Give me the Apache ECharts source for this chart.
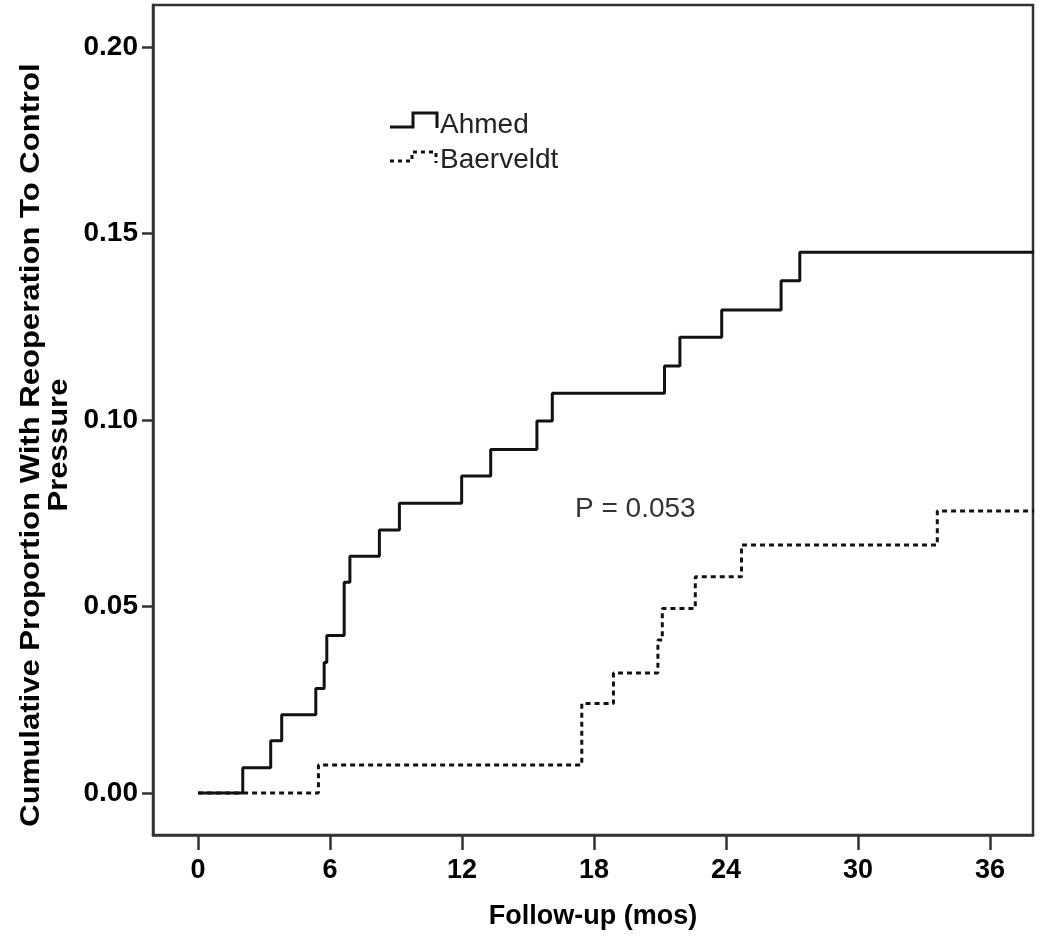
<!DOCTYPE html>
<html>
<head>
<meta charset="utf-8">
<style>
html,body{margin:0;padding:0;background:#fff;}
#chart{width:1044px;height:943px;}
</style>
<script src="https://cdn.jsdelivr.net/npm/echarts@6/dist/echarts.min.js"></script>
</head>
<body>
<div id="chart"></div>
<script>
// ---- data ----
const ahmedTime = [0, 2.03, 3.3, 3.8, 5.35, 5.73, 5.85, 6.64, 6.9, 8.24, 9.15, 11.98, 13.3, 15.4, 16.1, 21.2, 21.9, 23.8, 26.5, 27.35, 38];
const ahmedCum  = [0, 0.0068, 0.0140, 0.0210, 0.0280, 0.0350, 0.0422, 0.0565, 0.0635, 0.0705, 0.0777, 0.0850, 0.0921, 0.0997, 0.1072, 0.1145, 0.1222, 0.1295, 0.1373, 0.1450, 0.1450];
const baerTime  = [0, 5.47, 17.44, 18.88, 20.9, 21.1, 22.6, 24.7, 33.6, 38];
const baerCum   = [0, 0.0075, 0.0240, 0.0322, 0.0410, 0.0495, 0.0580, 0.0665, 0.0756, 0.0756];
const xTicks = [0, 6, 12, 18, 24, 30, 36];
const yTicks = [0, 0.05, 0.10, 0.15, 0.20];
const seriesNames = ['Ahmed', 'Baerveldt'];
const pText = 'P = 0.053';
const xTitle = 'Follow-up (mos)';
const yTitle = 'Cumulative Proportion With Reoperation To Control\nPressure';

const chart = echarts.init(document.getElementById('chart'), null, {renderer: 'canvas'});
const zip = (a, b) => a.map((t, i) => [t, b[i]]);
const FRAME = '#333';

chart.setOption({
  animation: false,
  backgroundColor: '#fff',
  grid: {left: 153, right: 11, top: 5, bottom: 108, show: true, borderColor: FRAME, borderWidth: 2.5, backgroundColor: 'transparent'},
  xAxis: {
    type: 'value', min: -2.05, max: 37.95,
    name: xTitle, nameLocation: 'middle', nameGap: 68,
    nameTextStyle: {fontFamily: 'Liberation Sans', fontWeight: 'bold', fontSize: 27, color: '#000'},
    axisLine: {show: true, onZero: false, lineStyle: {color: FRAME, width: 2.5}},
    axisTick: {show: true, length: 15, customValues: xTicks, lineStyle: {color: FRAME, width: 2.5}},
    axisLabel: {customValues: xTicks, margin: 22, fontFamily: 'Liberation Sans', fontWeight: 'bold', fontSize: 27, color: '#000'},
    splitLine: {show: false}
  },
  yAxis: {
    type: 'value', min: -0.01125, max: 0.21125,
    axisLine: {show: true, onZero: false, lineStyle: {color: FRAME, width: 2.5}},
    axisTick: {show: true, length: 11, customValues: yTicks, lineStyle: {color: FRAME, width: 2.5}},
    axisLabel: {customValues: yTicks, margin: 15, formatter: v => v.toFixed(2), fontFamily: 'Liberation Sans', fontWeight: 'bold', fontSize: 28, color: '#000'},
    splitLine: {show: false}
  },
  graphic: [
    {type: 'text', x: 18, y: 445, rotation: Math.PI / 2, scaleX: 1.15, z: 10,
     style: {text: yTitle, fontFamily: 'Liberation Sans', fontWeight: 'bold', fontSize: 27, lineHeight: 28, fill: '#000', align: 'center', verticalAlign: 'top'}},
    {type: 'polyline', z: 10, shape: {points: [[390,127],[413,127],[413,113],[437,113],[437,128]]}, style: {stroke: '#111', lineWidth: 3, fill: null}},
    {type: 'polyline', z: 10, shape: {points: [[390,161],[412,161],[412,152],[436,152],[436,163]]}, style: {stroke: '#111', lineWidth: 3, fill: null, lineDash: [4, 4]}},
    {type: 'text', x: 440, y: 125, z: 10, style: {text: seriesNames[0], fontFamily: 'Liberation Sans', fontSize: 28, fill: '#222', verticalAlign: 'middle'}},
    {type: 'text', x: 440, y: 160, z: 10, style: {text: seriesNames[1], fontFamily: 'Liberation Sans', fontSize: 28, fill: '#222', verticalAlign: 'middle'}},
    {type: 'text', x: 575, y: 509, z: 10, style: {text: pText, fontFamily: 'Liberation Sans', fontSize: 28, fill: '#333', verticalAlign: 'middle'}}
  ],
  series: [
    {name: seriesNames[1], type: 'line', step: 'end', data: zip(baerTime, baerCum), showSymbol: false, z: 2,
     lineStyle: {color: '#111', width: 3, type: [5, 4]}},
    {name: seriesNames[0], type: 'line', step: 'end', data: zip(ahmedTime, ahmedCum), showSymbol: false, z: 3,
     lineStyle: {color: '#111', width: 3}}
  ]
});
</script>
</body>
</html>
